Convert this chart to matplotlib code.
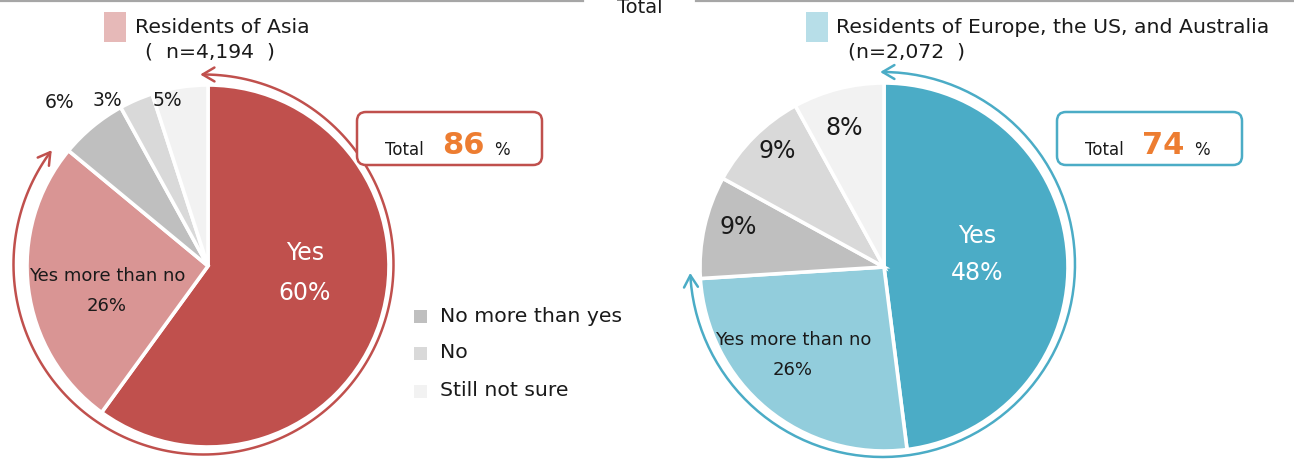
import numpy as np
import matplotlib
matplotlib.use('Agg')
import matplotlib.pyplot as plt
from matplotlib.patches import FancyBboxPatch, Rectangle, FancyArrowPatch
from matplotlib.path import Path

plt.rcParams['font.family'] = ['DejaVu Sans']

# data
categories = ['Yes', 'Yes more than no', 'No more than yes', 'No', 'Still not sure']
asia_values = [60, 26, 6, 3, 5]
west_values = [48, 26, 9, 9, 8]
asia_title = 'Residents of Asia'
asia_n = '( n=4,194 )'
west_title = 'Residents of Europe, the US, and Australia'
west_n = '(n=2,072 )'
asia_colors = ['#C0504D', '#D99594', '#BFBFBF', '#D9D9D9', '#F2F2F2']
west_colors = ['#4BACC6', '#92CDDC', '#BFBFBF', '#D9D9D9', '#F2F2F2']

W, H = 1294, 459
fig = plt.figure(figsize=(W / 100, H / 100), dpi=100)
ax = fig.add_axes([0, 0, 1, 1])

def Y(y):
    return H - y

def draw_arc(cx, cy, r, a_start, a_end, color):
    # clockwise arc from a_start to a_end (degrees), arrowheads at both ends
    t = np.radians(np.linspace(a_start, a_end - 360, 200))
    pts = np.column_stack([cx + r * np.cos(t), Y(cy) + r * np.sin(t)])
    arr = FancyArrowPatch(path=Path(pts), arrowstyle='<->,head_length=0.85,head_width=0.5',
                          mutation_scale=10, color=color, lw=1.8)
    ax.add_patch(arr)

def total_box(x0, y0, x1, y1, edge, total):
    box = FancyBboxPatch((x0, Y(y1)), x1 - x0, y1 - y0,
                         boxstyle='round,pad=0,rounding_size=9',
                         fc='white', ec=edge, lw=1.8)
    ax.add_patch(box)
    ax.text(x0 + 28, Y(155), 'Total', fontsize=12, color='#1a1a1a', va='baseline')
    ax.text(x0 + 85, Y(154), f'{total}', fontsize=22, color='#ED7D31',
            fontweight='bold', va='baseline')
    ax.text(x0 + 137, Y(155), '%', fontsize=12, color='#1a1a1a', va='baseline')

wp = dict(edgecolor='white', linewidth=2.6)

# left pie
ax.pie(asia_values, colors=asia_colors, startangle=90, counterclock=False,
       center=(208, Y(266)), radius=181, wedgeprops=wp)
# right pie
ax.pie(west_values, colors=west_colors, startangle=90, counterclock=False,
       center=(884, Y(267)), radius=184, wedgeprops=wp)

ax.set_xlim(0, W)
ax.set_ylim(0, H)
ax.set_aspect('equal')
ax.axis('off')

# arcs
draw_arc(203.5, 264.5, 190, 91, 143, '#C0504D')
draw_arc(882.5, 264.5, 192.5, 90.7, 182.5, '#4BACC6')

# top rule with "Total"
ax.plot([0, 583], [Y(0.8), Y(0.8)], color='#A6A6A6', lw=1.6)
ax.plot([696, W], [Y(0.8), Y(0.8)], color='#A6A6A6', lw=1.6)
ax.text(640, Y(13), 'Total', fontsize=14, ha='center', va='baseline', color='#1a1a1a')

# titles
ax.add_patch(Rectangle((104, Y(42)), 22, 30, fc='#E6B9B8', ec='none'))
ax.text(135, Y(33), asia_title, fontsize=14.7, va='baseline', color='#1a1a1a')
ax.text(145, Y(58), asia_n.replace(' ', '  '), fontsize=14.7, va='baseline', color='#1a1a1a')
ax.add_patch(Rectangle((806, Y(42)), 22, 30, fc='#B7DEE8', ec='none'))
ax.text(836, Y(33), west_title, fontsize=14.7, va='baseline', color='#1a1a1a')
ax.text(848, Y(58), west_n.replace(' ', '  '), fontsize=14.7, va='baseline', color='#1a1a1a')

# labels left
ax.text(305, Y(253), categories[0], fontsize=17, color='white', ha='center', va='center')
ax.text(305, Y(293), f'{asia_values[0]}%', fontsize=17, color='white', ha='center', va='center')
ax.text(107, Y(276), categories[1], fontsize=13, color='#1a1a1a', ha='center', va='center')
ax.text(107, Y(306), f'{asia_values[1]}%', fontsize=13, color='#1a1a1a', ha='center', va='center')
for v, (x, y) in zip(asia_values[2:], [(60, 103), (107, 101), (167, 100)]):
    ax.text(x, Y(y), f'{v}%', fontsize=13.5, color='#1a1a1a', ha='center', va='center')

# labels right
ax.text(977, Y(236), categories[0], fontsize=17, color='white', ha='center', va='center')
ax.text(977, Y(273), f'{west_values[0]}%', fontsize=17, color='white', ha='center', va='center')
ax.text(793, Y(340), categories[1], fontsize=13, color='#1a1a1a', ha='center', va='center')
ax.text(793, Y(370), f'{west_values[1]}%', fontsize=13, color='#1a1a1a', ha='center', va='center')
for v, (x, y) in zip(west_values[2:], [(738, 227), (777, 151), (844, 128)]):
    ax.text(x, Y(y), f'{v}%', fontsize=17, color='#1a1a1a', ha='center', va='center')

# total boxes
total_box(357, 112, 542, 165, '#C0504D', asia_values[0] + asia_values[1])
total_box(1057, 112, 1242, 165, '#4BACC6', west_values[0] + west_values[1])

# legend
for i, y in enumerate([316, 353, 391]):
    ax.add_patch(Rectangle((414, Y(y) - 6.5), 13, 13, fc=asia_colors[2 + i], ec='none'))
    ax.text(440, Y(y), categories[2 + i], fontsize=14.7, va='center', color='#1a1a1a')

fig.savefig('out.png', dpi=100)
